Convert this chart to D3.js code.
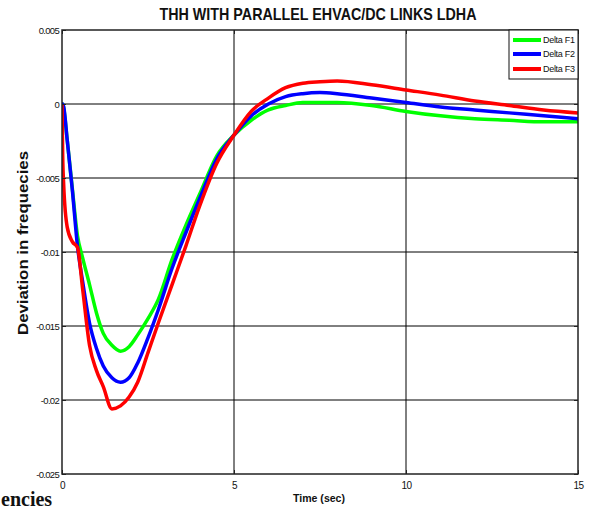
<!DOCTYPE html>
<html>
<head>
<meta charset="utf-8">
<script src="https://cdn.jsdelivr.net/npm/d3@7"></script>
<style>
  html, body { margin: 0; padding: 0; background: #fff; }
  svg { display: block; }
</style>
</head>
<body>
<svg id="chart" width="592" height="513"></svg>
<script>
// ---- data ----
const time = [0, 0.02, 0.05, 0.15, 0.3, 0.45, 0.6, 0.8, 1.0, 1.2, 1.45, 1.7, 1.95, 2.2, 2.5, 2.8, 3.2, 3.6, 4.0, 4.5, 5.0, 5.5, 6.0, 6.5, 7.0, 7.5, 8.0, 9.0, 10, 11, 12, 13, 14, 15];
const deltaF1 = [0, 0, -0.0003, -0.0024, -0.0057, -0.0089, -0.0104, -0.0122, -0.0141, -0.0155, -0.0163, -0.0167, -0.0164, -0.0156, -0.0145, -0.0132, -0.0105, -0.0082, -0.0061, -0.0035, -0.0021, -0.0011, -0.0004, -0.0001, 0.0001, 0.0001, 0.0001, -0.0001, -0.0005, -0.0008, -0.0010, -0.0011, -0.0012, -0.0012];
const deltaF2 = [0, 0, -0.0002, -0.0024, -0.0058, -0.0096, -0.0120, -0.0148, -0.0165, -0.0177, -0.0185, -0.0188, -0.0185, -0.0175, -0.0158, -0.0139, -0.0111, -0.0087, -0.0064, -0.0037, -0.0021, -0.0008, 0.0000, 0.0005, 0.0007, 0.00077, 0.0007, 0.0004, 0.0001, -0.0002, -0.0004, -0.0006, -0.0008, -0.0010];
const deltaF3 = [0, -0.0035, -0.0055, -0.0083, -0.0093, -0.0097, -0.0125, -0.0163, -0.0180, -0.0191, -0.0206, -0.0204, -0.0198, -0.0188, -0.0168, -0.0148, -0.0122, -0.0096, -0.0069, -0.0040, -0.0021, -0.0005, 0.0004, 0.0011, 0.0014, 0.0015, 0.00155, 0.0013, 0.00095, 0.0006, 0.0002, -0.0001, -0.0004, -0.0006];
const seriesNames = ["Delta F1", "Delta F2", "Delta F3"];
const seriesColors = ["#00ff00", "#0000ff", "#ff0000"];
const xTicks = [0, 5, 10, 15];
const yTicks = [0.005, 0, -0.005, -0.01, -0.015, -0.02, -0.025];
const yTickLabels = ["0.005", "0", "-0.005", "-0.01", "-0.015", "-0.02", "-0.025"];

// ---- layout ----
const svg = d3.select("#chart");
const pL = 62, pR = 578, pT = 30, pB = 474;
const x = d3.scaleLinear().domain([0, 15]).range([pL, pR]);
const y = d3.scaleLinear().domain([-0.025, 0.005]).range([pB, pT]);

// grid
const grid = svg.append("g");
grid.selectAll("line.vg").data(xTicks.slice(1, -1)).enter().append("line")
  .attr("x1", d => x(d)).attr("x2", d => x(d)).attr("y1", pT).attr("y2", pB)
  .attr("stroke", "#000").attr("stroke-width", 1);
grid.selectAll("line.hg").data(yTicks.slice(1, -1)).enter().append("line")
  .attr("x1", pL).attr("x2", pR).attr("y1", d => y(d)).attr("y2", d => y(d))
  .attr("stroke", "#000").attr("stroke-width", 1);

// curves
svg.append("defs").append("clipPath").attr("id", "clip")
  .append("rect").attr("x", pL).attr("y", pT).attr("width", pR - pL).attr("height", pB - pT);
const allSeries = [deltaF1, deltaF2, deltaF3];
const line = d3.line().x((d, i) => x(time[i])).y(d => y(d)).curve(d3.curveMonotoneX);
svg.append("g").attr("clip-path", "url(#clip)")
  .selectAll("path").data(allSeries).enter().append("path")
  .attr("d", d => line(d))
  .attr("fill", "none")
  .attr("stroke", (d, i) => seriesColors[i])
  .attr("stroke-width", 3.5)
  .attr("stroke-linejoin", "round");

// axes (MATLAB-like: ticks inside, box)
const xAxisB = d3.axisBottom(x).tickValues(xTicks).tickSizeInner(-4).tickSizeOuter(0).tickPadding(8).tickFormat(d3.format("d"));
const gx = svg.append("g").attr("transform", `translate(0,${pB})`).call(xAxisB);
gx.select(".domain").remove();
gx.selectAll("line").attr("stroke", "#222");
gx.selectAll("text").attr("font-family", "Liberation Sans, Arial, sans-serif").attr("font-size", "10px")
  .attr("letter-spacing", "-0.6px").attr("fill", "#111");

const yAxisL = d3.axisLeft(y).tickValues(yTicks).tickSizeInner(-4).tickSizeOuter(0).tickPadding(3)
  .tickFormat((d, i) => yTickLabels[i]);
const gy = svg.append("g").attr("transform", `translate(${pL},0)`).call(yAxisL);
gy.select(".domain").remove();
gy.selectAll("line").attr("stroke", "#222");
gy.selectAll("text").attr("font-family", "Liberation Sans, Arial, sans-serif").attr("font-size", "9.5px")
  .attr("letter-spacing", "-0.7px").attr("fill", "#111");

// top/right ticks
const gt = svg.append("g").attr("transform", `translate(0,${pT})`)
  .call(d3.axisTop(x).tickValues(xTicks).tickSizeInner(-4).tickSizeOuter(0).tickFormat(""));
gt.select(".domain").remove(); gt.selectAll("line").attr("stroke", "#222");
const gr = svg.append("g").attr("transform", `translate(${pR},0)`)
  .call(d3.axisRight(y).tickValues(yTicks).tickSizeInner(-4).tickSizeOuter(0).tickFormat(""));
gr.select(".domain").remove(); gr.selectAll("line").attr("stroke", "#222");

// frame
svg.append("rect").attr("x", pL).attr("y", pT).attr("width", pR - pL).attr("height", pB - pT)
  .attr("fill", "none").attr("stroke", "#222").attr("stroke-width", 1.5);

// title
svg.append("text").attr("x", 318).attr("y", 20).attr("text-anchor", "middle")
  .attr("font-family", "Liberation Sans, Arial, sans-serif").attr("font-weight", "bold").attr("font-size", "17px")
  .attr("textLength", 317).attr("lengthAdjust", "spacingAndGlyphs").attr("fill", "#111")
  .text("THH WITH PARALLEL EHVAC/DC LINKS LDHA");

// axis labels
svg.append("text").attr("x", 319).attr("y", 502).attr("text-anchor", "middle")
  .attr("font-family", "Liberation Sans, Arial, sans-serif").attr("font-weight", "bold").attr("font-size", "11px")
  .attr("textLength", 52).attr("lengthAdjust", "spacingAndGlyphs").attr("fill", "#111")
  .text("Time (sec)");
svg.append("text").attr("transform", "translate(28,243) rotate(-90)").attr("text-anchor", "middle")
  .attr("font-family", "Liberation Sans, Arial, sans-serif").attr("font-weight", "bold").attr("font-size", "15px")
  .attr("textLength", 184).attr("lengthAdjust", "spacingAndGlyphs").attr("fill", "#111")
  .text("Deviation in frequecies");

// legend
const lg = svg.append("g");
lg.append("rect").attr("x", 509).attr("y", 30).attr("width", 69).attr("height", 49)
  .attr("fill", "#fff").attr("stroke", "#111").attr("stroke-width", 1);
const legY = [40, 54, 69];
seriesNames.forEach((n, i) => {
  lg.append("line").attr("x1", 513).attr("x2", 541).attr("y1", legY[i]).attr("y2", legY[i])
    .attr("stroke", seriesColors[i]).attr("stroke-width", 4);
  lg.append("text").attr("x", 543).attr("y", legY[i]).attr("dy", "0.35em")
    .attr("font-family", "Liberation Sans, Arial, sans-serif").attr("font-size", "9px")
    .attr("letter-spacing", "-0.3px").attr("fill", "#111").text(n);
});

// caption fragment at the bottom of the page
svg.append("text").attr("x", 1).attr("y", 506)
  .attr("font-family", "Liberation Serif, Times New Roman, serif").attr("font-weight", "bold").attr("font-size", "20px")
  .attr("fill", "#111").text("encies");
</script>
</body>
</html>
